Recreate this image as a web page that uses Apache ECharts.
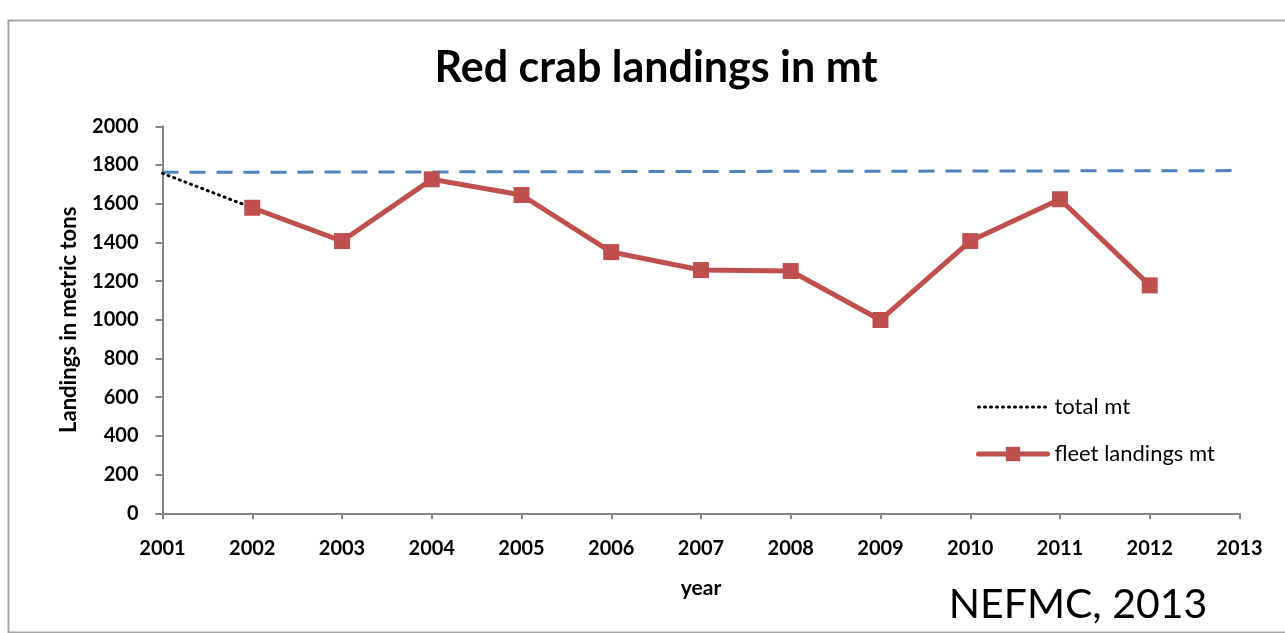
<!DOCTYPE html>
<html>
<head>
<meta charset="utf-8">
<script src="https://cdn.jsdelivr.net/npm/echarts@6/dist/echarts.min.js"></script>
<style>
html,body{margin:0;padding:0;background:#fff;}
#chart{width:1285px;height:633px;}
</style>
</head>
<body>
<div id="chart"></div>
<script>
// ---- data ----
const fleetYears = [2002, 2003, 2004, 2005, 2006, 2007, 2008, 2009, 2010, 2011, 2012];
const fleetLandings = [1579, 1407, 1726, 1645, 1350, 1257, 1252, 999, 1407, 1623, 1178];
const totalYears = [2001, 2002];
const totalLandings = [1757, 1579];
const limitYears = [2001, 2013];
const limitValues = [1762, 1771];
const yTicks = [0, 200, 400, 600, 800, 1000, 1200, 1400, 1600, 1800, 2000];
const xTicks = [2001, 2002, 2003, 2004, 2005, 2006, 2007, 2008, 2009, 2010, 2011, 2012, 2013];

const FONT = 'Lato';
const zip = (xs, ys) => xs.map((x, i) => [x, ys[i]]);

const chart = echarts.init(document.getElementById('chart'), null, {renderer: 'canvas'});
chart.setOption({
  backgroundColor: '#ffffff',
  animation: false,
  graphic: [
    {type: 'rect', left: 6, top: 18, shape: {width: 1300, height: 612},
     style: {fill: 'none', stroke: '#a6a6a6', lineWidth: 2}, silent: true, z: -1},
    {type: 'text', x: 656, y: 68,
     style: {text: 'Red crab landings in mt', font: 'bold 43px ' + FONT, fill: '#000',
             textAlign: 'center', textVerticalAlign: 'middle'}},
    {type: 'text', x: 1078, y: 605,
     style: {text: 'NEFMC, 2013', font: '41px ' + FONT, fill: '#000',
             textAlign: 'center', textVerticalAlign: 'middle'}}
  ],
  grid: {left: 162.5, right: 45.5, top: 126.3, bottom: 119.7},
  legend: {
    orient: 'vertical', left: 976, top: 396, padding: 0,
    itemWidth: 69, itemHeight: 18, itemGap: 25,
    data: [
      {name: 'total mt', itemStyle: {opacity: 0},
       lineStyle: {color: '#000', width: 3, type: [1, 5], cap: 'round'}},
      {name: 'fleet landings mt', lineStyle: {color: '#C0504D', width: 5, cap: 'round'}}
    ],
    textStyle: {fontFamily: FONT, fontSize: 22, color: '#000', padding: [0, 0, 0, 2]}
  },
  xAxis: {
    type: 'value', min: xTicks[0], max: xTicks[xTicks.length - 1], interval: 1,
    name: 'year', nameLocation: 'middle', nameGap: 64,
    nameTextStyle: {fontFamily: FONT, fontWeight: 'bold', fontSize: 21, color: '#000'},
    axisLine: {show: true, lineStyle: {color: '#868686', width: 2}},
    axisTick: {show: true, length: 6, lineStyle: {color: '#868686', width: 2}},
    axisLabel: {fontFamily: FONT, fontWeight: 'bold', fontSize: 20, color: '#000', margin: 25,
                formatter: v => String(v)},
    splitLine: {show: false}
  },
  yAxis: {
    type: 'value', min: yTicks[0], max: yTicks[yTicks.length - 1], interval: 200,
    name: 'Landings in metric tons', nameLocation: 'middle', nameGap: 83,
    nameTextStyle: {fontFamily: FONT, fontWeight: 'bold', fontSize: 22, color: '#000'},
    axisLine: {show: true, lineStyle: {color: '#868686', width: 2}},
    axisTick: {show: true, length: 7, lineStyle: {color: '#868686', width: 2}},
    axisLabel: {fontFamily: FONT, fontWeight: 'bold', fontSize: 20, color: '#000', margin: 24,
                formatter: v => String(v)},
    splitLine: {show: false}
  },
  series: [
    {
      name: 'limit', type: 'line', data: zip(limitYears, limitValues),
      symbol: 'none', silent: true, z: 1,
      lineStyle: {color: '#4F81BD', width: 3, type: [16, 11]}
    },
    {
      name: 'total mt', type: 'line', data: zip(totalYears, totalLandings),
      symbol: 'none', z: 2, color: '#000',
      lineStyle: {color: '#000', width: 3, type: [1, 5], cap: 'round'}
    },
    {
      name: 'fleet landings mt', type: 'line', data: zip(fleetYears, fleetLandings),
      symbol: 'rect', symbolSize: 16, z: 3, color: '#C0504D',
      itemStyle: {color: '#C0504D'},
      lineStyle: {color: '#C0504D', width: 5}
    }
  ]
});
</script>
</body>
</html>
